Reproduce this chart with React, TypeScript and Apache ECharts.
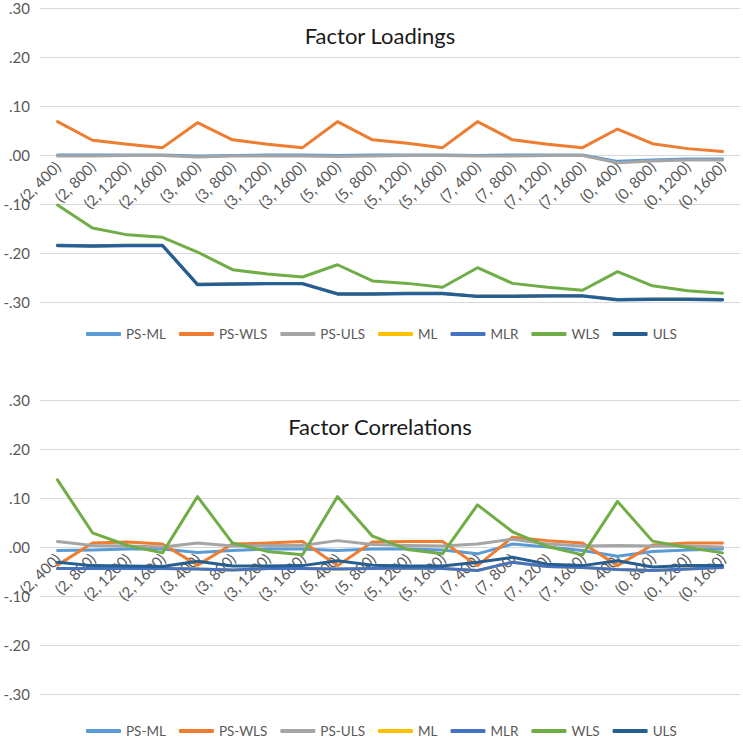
import React, { useEffect, useRef } from "react";
import * as echarts from "echarts";

const categories = [
  "(2, 400)", "(2, 800)", "(2, 1200)", "(2, 1600)",
  "(3, 400)", "(3, 800)", "(3, 1200)", "(3, 1600)",
  "(5, 400)", "(5, 800)", "(5, 1200)", "(5, 1600)",
  "(7, 400)", "(7, 800)", "(7, 1200)", "(7, 1600)",
  "(0, 400)", "(0, 800)", "(0, 1200)", "(0, 1600)",
];

const seriesNames = ["PS-ML", "PS-WLS", "PS-ULS", "ML", "MLR", "WLS", "ULS"];
const seriesColors = ["#5B9BD5", "#ED7D31", "#A5A5A5", "#FFC000", "#4472C4", "#70AD47", "#255E91"];

// Factor Loadings
const loadPSML = [0.0, 0.0, 0.0, 0.0, -0.002, -0.001, 0.0, 0.0, -0.001, 0.0, 0.0, 0.0, -0.001, 0.0, 0.0, 0.0, -0.013, -0.01, -0.008, -0.008];
const loadPSWLS = [0.068, 0.03, 0.022, 0.015, 0.066, 0.031, 0.022, 0.015, 0.068, 0.031, 0.024, 0.015, 0.068, 0.031, 0.022, 0.015, 0.053, 0.023, 0.013, 0.007];
const loadPSULS = [-0.002, -0.002, -0.001, -0.001, -0.004, -0.002, -0.002, -0.002, -0.003, -0.002, -0.001, -0.001, -0.002, -0.002, -0.001, -0.001, -0.016, -0.012, -0.01, -0.01];
const loadML = [-0.184, -0.185, -0.184, -0.184, -0.264, -0.263, -0.262, -0.262, -0.283, -0.283, -0.282, -0.282, -0.288, -0.288, -0.287, -0.287, -0.295, -0.294, -0.294, -0.295];
const loadMLR = [-0.184, -0.185, -0.184, -0.184, -0.264, -0.263, -0.262, -0.262, -0.283, -0.283, -0.282, -0.282, -0.288, -0.288, -0.287, -0.287, -0.295, -0.294, -0.294, -0.295];
const loadWLS = [-0.102, -0.149, -0.163, -0.168, -0.198, -0.234, -0.243, -0.249, -0.224, -0.257, -0.262, -0.27, -0.23, -0.262, -0.27, -0.276, -0.238, -0.267, -0.277, -0.282];
const loadULS = [-0.185, -0.186, -0.185, -0.185, -0.265, -0.264, -0.263, -0.263, -0.284, -0.284, -0.283, -0.283, -0.289, -0.289, -0.288, -0.288, -0.296, -0.295, -0.295, -0.296];

// Factor Correlations
const corrPSML = [-0.007, -0.006, -0.004, -0.004, -0.011, -0.007, -0.004, -0.004, -0.007, -0.004, -0.004, -0.006, -0.014, 0.006, 0.0, -0.007, -0.019, -0.009, -0.006, -0.004];
const corrPSWLS = [-0.037, 0.008, 0.01, 0.006, -0.037, 0.006, 0.008, 0.011, -0.038, 0.01, 0.011, 0.011, -0.038, 0.02, 0.013, 0.008, -0.038, 0.004, 0.008, 0.008];
const corrPSULS = [0.011, 0.003, 0.002, 0.0, 0.008, 0.002, 0.003, 0.003, 0.013, 0.005, 0.003, 0.002, 0.006, 0.016, 0.006, 0.002, 0.003, 0.002, 0.002, 0.0];
const corrML = [-0.044, -0.044, -0.044, -0.044, -0.045, -0.047, -0.044, -0.044, -0.045, -0.044, -0.043, -0.044, -0.048, -0.031, -0.04, -0.042, -0.046, -0.048, -0.045, -0.042];
const corrMLR = [-0.044, -0.044, -0.044, -0.044, -0.045, -0.047, -0.044, -0.044, -0.045, -0.044, -0.043, -0.044, -0.048, -0.031, -0.04, -0.042, -0.046, -0.048, -0.045, -0.042];
const corrWLS = [0.137, 0.029, 0.003, -0.012, 0.103, 0.008, -0.009, -0.016, 0.103, 0.022, -0.005, -0.014, 0.086, 0.031, 0.001, -0.016, 0.093, 0.012, -0.001, -0.012];
const corrULS = [-0.031, -0.038, -0.039, -0.04, -0.029, -0.039, -0.039, -0.038, -0.028, -0.037, -0.039, -0.039, -0.031, -0.021, -0.035, -0.038, -0.028, -0.041, -0.038, -0.038];

const titles = ["Factor Loadings", "Factor Correlations"];

const FONT = "Lato, 'Noto Sans', sans-serif";
const TEXT = "#595959";
const GRID = "#D9D9D9";

export default function App() {
  const ref = useRef<HTMLDivElement>(null);

  useEffect(() => {
    if (!ref.current) return;
    const chart = echarts.init(ref.current, undefined, { renderer: "svg" });
    const loadData = [loadPSML, loadPSWLS, loadPSULS, loadML, loadMLR, loadWLS, loadULS];
    const corrData = [corrPSML, corrPSWLS, corrPSULS, corrML, corrMLR, corrWLS, corrULS];

    const fmt = (v: number) => {
      const s = v.toFixed(2);
      return s.replace("0.", ".");
    };

    const gridTops = [8, 400];
    const gridHeight = 294;

    const xAxes = [0, 1].map((i) => ({
      type: "category",
      gridIndex: i,
      data: categories,
      boundaryGap: true,
      position: "bottom",
      offset: -gridHeight / 2,
      axisLine: { show: true, onZero: false, lineStyle: { color: GRID, width: 1 } },
      axisTick: { show: false },
      axisLabel: {
        interval: 0,
        rotate: 45,
        margin: 9,
        color: TEXT,
        fontFamily: FONT,
        fontSize: 15,
      },
      splitLine: { show: false },
    }));

    const yAxes = [0, 1].map((i) => ({
      type: "value",
      gridIndex: i,
      min: -0.3,
      max: 0.3,
      interval: 0.1,
      axisLine: { show: false },
      axisTick: { show: false },
      axisLabel: {
        color: TEXT,
        fontFamily: FONT,
        fontSize: 15,
        margin: 10,
        formatter: fmt,
      },
      splitLine: { show: true, lineStyle: { color: GRID, width: 1 } },
    }));

    const series: any[] = [];
    [loadData, corrData].forEach((group, gi) => {
      group.forEach((d, si) => {
        series.push({
          type: "line",
          name: seriesNames[si],
          xAxisIndex: gi,
          yAxisIndex: gi,
          data: d,
          showSymbol: false,
          symbol: "none",
          lineStyle: { color: seriesColors[si], width: 3, cap: "round", join: "round" },
          itemStyle: { color: seriesColors[si] },
          emphasis: { disabled: true },
        });
      });
    });

    const legends = [334, 731].map((cy) => ({
      data: seriesNames,
      orient: "horizontal",
      left: 81,
      top: cy - 12,
      padding: 5,
      itemWidth: 35,
      itemHeight: 4,
      itemGap: 13,
      icon: "roundRect",
      textStyle: { color: TEXT, fontFamily: FONT, fontSize: 13.5 },
    }));

    chart.setOption({
      animation: false,
      backgroundColor: "#FFFFFF",
      title: titles.map((t, i) => ({
        text: t,
        left: 375,
        textAlign: "center",
        top: i === 0 ? 19 : 410,
        textStyle: { color: "#1a1a1a", fontFamily: FONT, fontSize: 22, fontWeight: "normal" },
      })),
      legend: legends,
      grid: gridTops.map((t) => ({ left: 40, right: 3, top: t, height: gridHeight, containLabel: false })),
      xAxis: xAxes,
      yAxis: yAxes,
      series,
    });

    return () => chart.dispose();
  }, []);

  return (
    <div
      ref={ref}
      style={{ position: "fixed", left: 0, top: 0, width: 743, height: 739, background: "#fff" }}
    />
  );
}
